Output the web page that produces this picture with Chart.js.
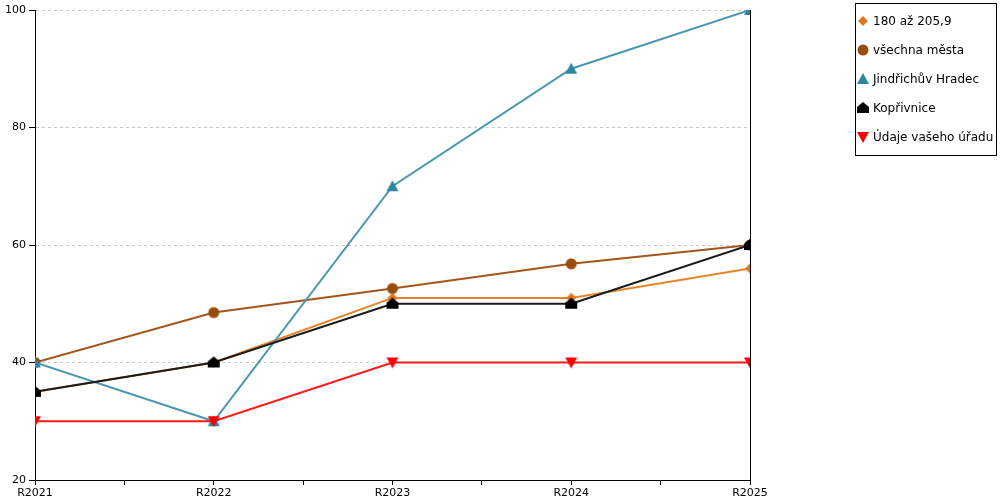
<!DOCTYPE html>
<html>
<head>
<meta charset="utf-8">
<script src="https://cdn.jsdelivr.net/npm/chart.js@4/dist/chart.umd.min.js"></script>
<style>
  body { margin: 0; background: #fff; font-family: "DejaVu Sans", Verdana, sans-serif; }
  #wrap { position: relative; width: 1000px; height: 500px; }
  #legend {
    position: absolute; left: 855px; top: 3px; width: 142px; height: 153px;
    border: 1px solid #000; padding-top: 2px; box-sizing: border-box;
  }
  .item { height: 29px; display: flex; align-items: center; font-size: 12px; color: #000; white-space: nowrap; }
  .item canvas { margin-right: 3px; }
</style>
</head>
<body>
<div id="wrap">
  <canvas id="chart" width="1000" height="500"></canvas>
  <div id="legend"></div>
</div>
<script>
const years = ["R2021", "R2022", "R2023", "R2024", "R2025"];
const yTicks = [20, 40, 60, 80, 100];

const seriesNames = ["180 až 205,9", "všechna města", "Jindřichův Hradec", "Kopřivnice", "Údaje vašeho úřadu"];
const band180 = [35, 40, 51, 51, 56];
const allCities = [40, 48.5, 52.6, 56.8, 60];
const jindrichuvHradec = [40, 30, 70, 90, 100];
const koprivnice = [35, 40, 50, 50, 60];
const yourOffice = [30, 30, 40, 40, 40];

const lineColors = ["#e58328", "#a3561b", "#4a98ad", "#1a1a1a", "#ff1a1a"];
const markerColors = ["#e0761a", "#994c0c", "#2f86a0", "#000000", "#ff0000"];
const markerShapes = ["diamond", "circle", "triangle", "house", "down"];

function makeMarker(shape, color) {
  const c = document.createElement("canvas");
  c.width = 14; c.height = 14;
  const ctx = c.getContext("2d");
  ctx.fillStyle = color;
  ctx.beginPath();
  if (shape === "diamond") {
    ctx.moveTo(7, 2); ctx.lineTo(12, 7); ctx.lineTo(7, 12); ctx.lineTo(2, 7);
  } else if (shape === "circle") {
    ctx.arc(7, 7, 5.5, 0, Math.PI * 2);
  } else if (shape === "triangle") {
    ctx.moveTo(7, 1); ctx.lineTo(13, 12); ctx.lineTo(1, 12);
  } else if (shape === "house") {
    ctx.moveTo(7, 1); ctx.lineTo(13, 6); ctx.lineTo(13, 12); ctx.lineTo(1, 12); ctx.lineTo(1, 6);
  } else {
    ctx.moveTo(1, 2); ctx.lineTo(13, 2); ctx.lineTo(7, 13);
  }
  ctx.closePath();
  ctx.fill();
  return c;
}

const allValues = [band180, allCities, jindrichuvHradec, koprivnice, yourOffice];

const datasets = allValues.map((vals, i) => ({
  label: seriesNames[i],
  data: vals.map((v, j) => ({ x: j, y: v })),
  borderColor: lineColors[i],
  backgroundColor: markerColors[i],
  borderWidth: 2,
  pointStyle: makeMarker(markerShapes[i], markerColors[i]),
  pointRadius: 6,
  order: allValues.length - i, // later series drawn on top
}));

const rightBorder = {
  id: "rightBorder",
  afterDraw(chart) {
    const a = chart.chartArea;
    const ctx = chart.ctx;
    ctx.save();
    ctx.strokeStyle = "#000";
    ctx.lineWidth = 1;
    ctx.beginPath();
    ctx.moveTo(Math.round(a.right) + 0.5, a.top);
    ctx.lineTo(Math.round(a.right) + 0.5, a.bottom);
    ctx.stroke();
    ctx.restore();
  },
};

const chart = new Chart(document.getElementById("chart"), {
  type: "line",
  data: { datasets: datasets },
  options: {
    responsive: false,
    animation: false,
    layout: { padding: { left: 0, top: 10, right: 250, bottom: 0 } },
    plugins: { legend: { display: false }, tooltip: { enabled: false } },
    scales: {
      x: {
        type: "linear",
        min: 0,
        max: years.length - 1,
        afterFit(scale) { scale.height = 20; },
        ticks: {
          stepSize: 0.5,
          autoSkip: false,
          maxRotation: 0,
          padding: 2,
          color: "#000",
          font: { family: "DejaVu Sans", size: 11 },
          callback: (v) => (Number.isInteger(v) ? years[v] : ""),
        },
        grid: { drawOnChartArea: false, drawTicks: true, tickLength: 5, tickColor: "#000" },
        border: { color: "#000", width: 1 },
      },
      y: {
        min: 20,
        max: 100,
        afterFit(scale) { scale.width = 35; },
        afterBuildTicks(scale) { scale.ticks = yTicks.map((v) => ({ value: v })); },
        ticks: {
          padding: 3,
          color: "#000",
          font: { family: "DejaVu Sans", size: 11 },
        },
        grid: { color: "#c8c8c8", tickColor: "#000", tickLength: 6 },
        border: { color: "#000", width: 1, dash: [3, 3] },
      },
    },
  },
  plugins: [rightBorder],
});

const legend = document.getElementById("legend");
seriesNames.forEach((name, i) => {
  const row = document.createElement("div");
  row.className = "item";
  row.appendChild(makeMarker(markerShapes[i], markerColors[i]));
  const span = document.createElement("span");
  span.textContent = name;
  row.appendChild(span);
  legend.appendChild(row);
});
</script>
</body>
</html>
